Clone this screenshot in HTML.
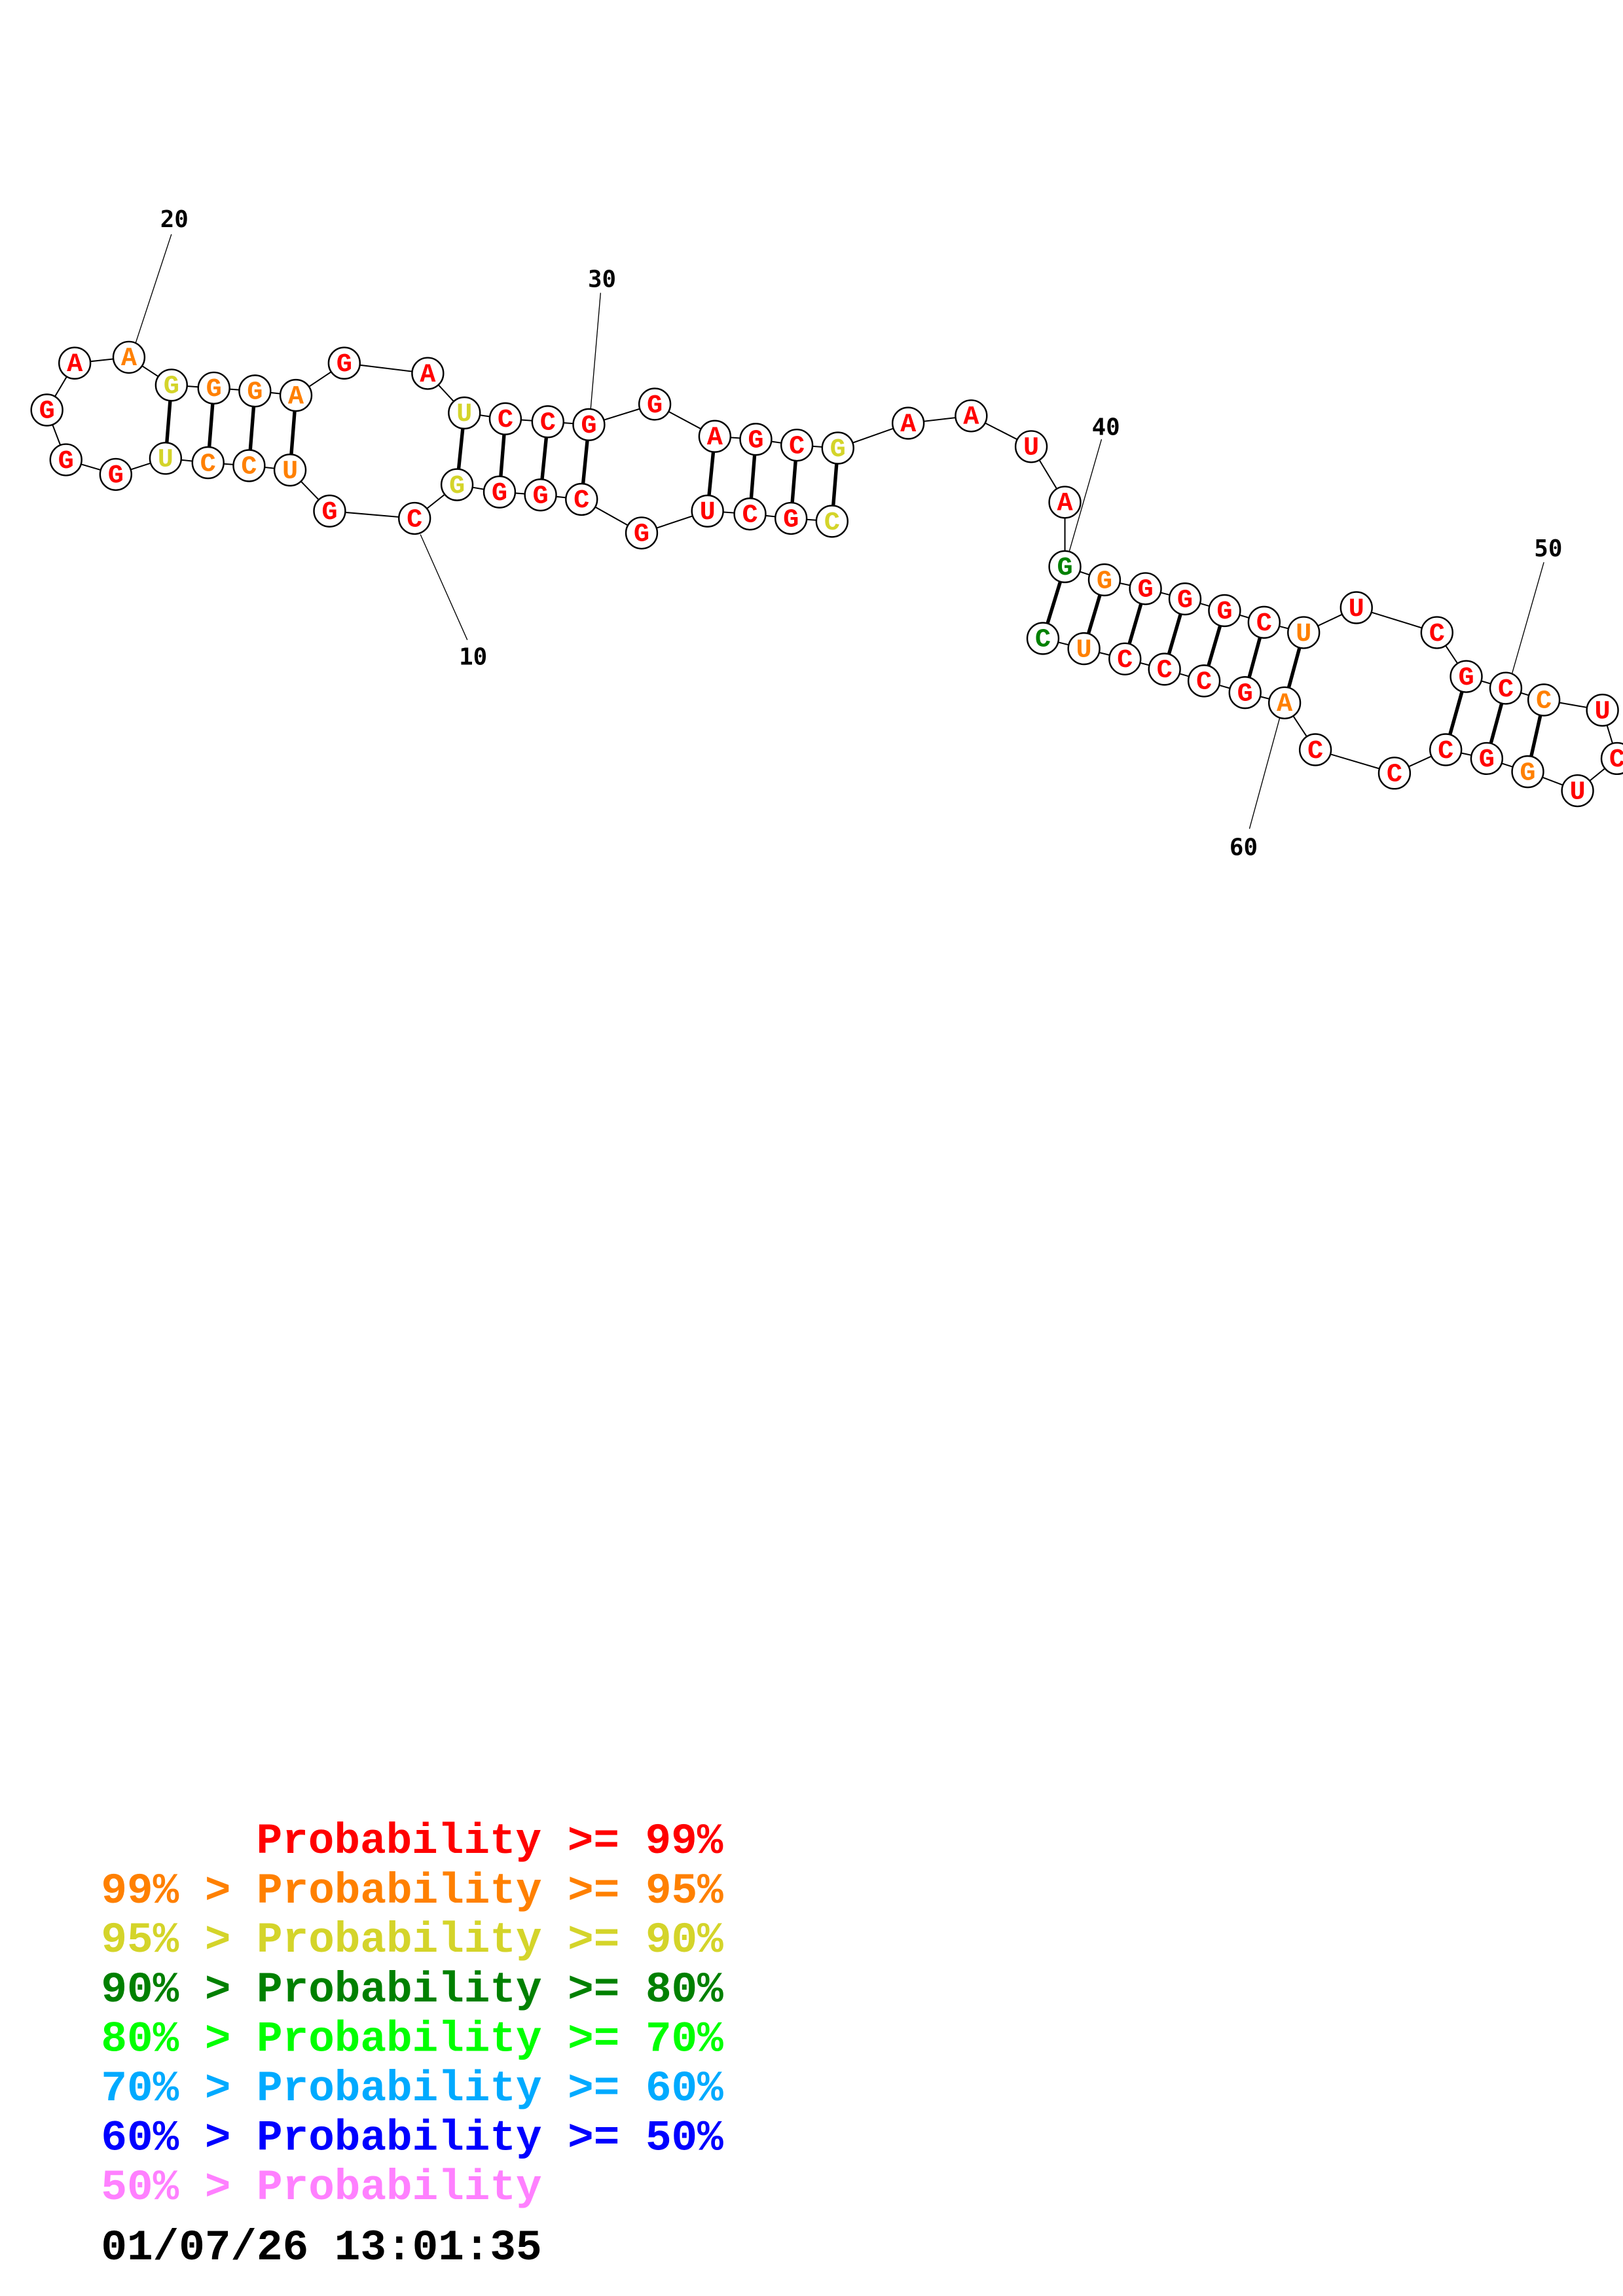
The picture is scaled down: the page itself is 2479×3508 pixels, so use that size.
<!DOCTYPE html>
<html><head><meta charset="utf-8"><style>
html,body{margin:0;padding:0;background:#fff;}
svg{display:block;}
.n{fill:#fff;stroke:#000;stroke-width:1.1}
.t{font-family:"Liberation Mono",monospace;font-weight:bold;font-size:18px;text-anchor:middle}
.R{fill:#ff0000}.O{fill:#ff8000}.Y{fill:#d4d42a}.G{fill:#008000}
.b{stroke:#000;stroke-width:0.9}
.p{stroke:#000;stroke-width:2.4}
.l{stroke:#000;stroke-width:0.6}
.num{font-family:"DejaVu Sans Mono","Liberation Mono",monospace;font-weight:bold;font-size:16px;text-anchor:middle}
.lg{font-family:"Liberation Mono",monospace;font-weight:bold;font-size:29.5px;white-space:pre}
</style></head><body>
<svg width="2479" height="3508" viewBox="0 0 1108 1568" xmlns="http://www.w3.org/2000/svg">
<g>
<polyline class="b" fill="none" points="568,356 540,354 512,351 483,349 438,364 397,341 369,338 341,336 312,331 283,354 225,349 198,321 170,318 142,316 113,313 79,324 45,314 32,280 51,248 88,244 117,263 146,265 174,267 202,270 235,248 292,255 317,282 345,286 374,288 402,290 447,276 488,298 516,300 544,304 572,306 620,289 663,284 704,305 727,343 727,387 754,396 782,402 809,409 836,417 863,425 890,432 926,415 981,432 1001,462 1028,470 1054,478 1094,485 1104,518 1077,540 1043,527 1015,518 987,512 952,528 898,512 877,480 850,473 822,465 795,457 768,450 740,443 712,436"/>
<line class="p" x1="117" y1="263" x2="113" y2="313"/>
<line class="p" x1="146" y1="265" x2="142" y2="316"/>
<line class="p" x1="174" y1="267" x2="170" y2="318"/>
<line class="p" x1="202" y1="270" x2="198" y2="321"/>
<line class="p" x1="317" y1="282" x2="312" y2="331"/>
<line class="p" x1="345" y1="286" x2="341" y2="336"/>
<line class="p" x1="374" y1="288" x2="369" y2="338"/>
<line class="p" x1="402" y1="290" x2="397" y2="341"/>
<line class="p" x1="488" y1="298" x2="483" y2="349"/>
<line class="p" x1="516" y1="300" x2="512" y2="351"/>
<line class="p" x1="544" y1="304" x2="540" y2="354"/>
<line class="p" x1="572" y1="306" x2="568" y2="356"/>
<line class="p" x1="727" y1="387" x2="712" y2="436"/>
<line class="p" x1="754" y1="396" x2="740" y2="443"/>
<line class="p" x1="782" y1="402" x2="768" y2="450"/>
<line class="p" x1="809" y1="409" x2="795" y2="457"/>
<line class="p" x1="836" y1="417" x2="822" y2="465"/>
<line class="p" x1="863" y1="425" x2="850" y2="473"/>
<line class="p" x1="890" y1="432" x2="877" y2="480"/>
<line class="p" x1="1001" y1="462" x2="987" y2="512"/>
<line class="p" x1="1028" y1="470" x2="1015" y2="518"/>
<line class="p" x1="1054" y1="478" x2="1043" y2="527"/>
<line class="l" x1="117" y1="160" x2="92" y2="236"/>
<line class="l" x1="410" y1="200" x2="403" y2="282"/>
<line class="l" x1="287" y1="365" x2="319" y2="437"/>
<line class="l" x1="752" y1="300" x2="729" y2="380"/>
<line class="l" x1="1054" y1="384" x2="1032" y2="461"/>
<line class="l" x1="853" y1="566" x2="874" y2="489"/>
</g>
<g>
<circle class="n" cx="568" cy="356" r="10.7"/><circle class="n" cx="540" cy="354" r="10.7"/><circle class="n" cx="512" cy="351" r="10.7"/><circle class="n" cx="483" cy="349" r="10.7"/><circle class="n" cx="438" cy="364" r="10.7"/><circle class="n" cx="397" cy="341" r="10.7"/><circle class="n" cx="369" cy="338" r="10.7"/><circle class="n" cx="341" cy="336" r="10.7"/><circle class="n" cx="312" cy="331" r="10.7"/><circle class="n" cx="283" cy="354" r="10.7"/><circle class="n" cx="225" cy="349" r="10.7"/><circle class="n" cx="198" cy="321" r="10.7"/><circle class="n" cx="170" cy="318" r="10.7"/><circle class="n" cx="142" cy="316" r="10.7"/><circle class="n" cx="113" cy="313" r="10.7"/><circle class="n" cx="79" cy="324" r="10.7"/><circle class="n" cx="45" cy="314" r="10.7"/><circle class="n" cx="32" cy="280" r="10.7"/><circle class="n" cx="51" cy="248" r="10.7"/><circle class="n" cx="88" cy="244" r="10.7"/><circle class="n" cx="117" cy="263" r="10.7"/><circle class="n" cx="146" cy="265" r="10.7"/><circle class="n" cx="174" cy="267" r="10.7"/><circle class="n" cx="202" cy="270" r="10.7"/><circle class="n" cx="235" cy="248" r="10.7"/><circle class="n" cx="292" cy="255" r="10.7"/><circle class="n" cx="317" cy="282" r="10.7"/><circle class="n" cx="345" cy="286" r="10.7"/><circle class="n" cx="374" cy="288" r="10.7"/><circle class="n" cx="402" cy="290" r="10.7"/><circle class="n" cx="447" cy="276" r="10.7"/><circle class="n" cx="488" cy="298" r="10.7"/><circle class="n" cx="516" cy="300" r="10.7"/><circle class="n" cx="544" cy="304" r="10.7"/><circle class="n" cx="572" cy="306" r="10.7"/><circle class="n" cx="620" cy="289" r="10.7"/><circle class="n" cx="663" cy="284" r="10.7"/><circle class="n" cx="704" cy="305" r="10.7"/><circle class="n" cx="727" cy="343" r="10.7"/><circle class="n" cx="727" cy="387" r="10.7"/><circle class="n" cx="754" cy="396" r="10.7"/><circle class="n" cx="782" cy="402" r="10.7"/><circle class="n" cx="809" cy="409" r="10.7"/><circle class="n" cx="836" cy="417" r="10.7"/><circle class="n" cx="863" cy="425" r="10.7"/><circle class="n" cx="890" cy="432" r="10.7"/><circle class="n" cx="926" cy="415" r="10.7"/><circle class="n" cx="981" cy="432" r="10.7"/><circle class="n" cx="1001" cy="462" r="10.7"/><circle class="n" cx="1028" cy="470" r="10.7"/><circle class="n" cx="1054" cy="478" r="10.7"/><circle class="n" cx="1094" cy="485" r="10.7"/><circle class="n" cx="1104" cy="518" r="10.7"/><circle class="n" cx="1077" cy="540" r="10.7"/><circle class="n" cx="1043" cy="527" r="10.7"/><circle class="n" cx="1015" cy="518" r="10.7"/><circle class="n" cx="987" cy="512" r="10.7"/><circle class="n" cx="952" cy="528" r="10.7"/><circle class="n" cx="898" cy="512" r="10.7"/><circle class="n" cx="877" cy="480" r="10.7"/><circle class="n" cx="850" cy="473" r="10.7"/><circle class="n" cx="822" cy="465" r="10.7"/><circle class="n" cx="795" cy="457" r="10.7"/><circle class="n" cx="768" cy="450" r="10.7"/><circle class="n" cx="740" cy="443" r="10.7"/><circle class="n" cx="712" cy="436" r="10.7"/>
</g>
<g class="t">
<text class="Y" x="568" y="361.5">C</text><text class="R" x="540" y="359.5">G</text><text class="R" x="512" y="356.5">C</text><text class="R" x="483" y="354.5">U</text><text class="R" x="438" y="369.5">G</text><text class="R" x="397" y="346.5">C</text><text class="R" x="369" y="343.5">G</text><text class="R" x="341" y="341.5">G</text><text class="Y" x="312" y="336.5">G</text><text class="R" x="283" y="359.5">C</text><text class="R" x="225" y="354.5">G</text><text class="O" x="198" y="326.5">U</text><text class="O" x="170" y="323.5">C</text><text class="O" x="142" y="321.5">C</text><text class="Y" x="113" y="318.5">U</text><text class="R" x="79" y="329.5">G</text><text class="R" x="45" y="319.5">G</text><text class="R" x="32" y="285.5">G</text><text class="R" x="51" y="253.5">A</text><text class="O" x="88" y="249.5">A</text><text class="Y" x="117" y="268.5">G</text><text class="O" x="146" y="270.5">G</text><text class="O" x="174" y="272.5">G</text><text class="O" x="202" y="275.5">A</text><text class="R" x="235" y="253.5">G</text><text class="R" x="292" y="260.5">A</text><text class="Y" x="317" y="287.5">U</text><text class="R" x="345" y="291.5">C</text><text class="R" x="374" y="293.5">C</text><text class="R" x="402" y="295.5">G</text><text class="R" x="447" y="281.5">G</text><text class="R" x="488" y="303.5">A</text><text class="R" x="516" y="305.5">G</text><text class="R" x="544" y="309.5">C</text><text class="Y" x="572" y="311.5">G</text><text class="R" x="620" y="294.5">A</text><text class="R" x="663" y="289.5">A</text><text class="R" x="704" y="310.5">U</text><text class="R" x="727" y="348.5">A</text><text class="G" x="727" y="392.5">G</text><text class="O" x="754" y="401.5">G</text><text class="R" x="782" y="407.5">G</text><text class="R" x="809" y="414.5">G</text><text class="R" x="836" y="422.5">G</text><text class="R" x="863" y="430.5">C</text><text class="O" x="890" y="437.5">U</text><text class="R" x="926" y="420.5">U</text><text class="R" x="981" y="437.5">C</text><text class="R" x="1001" y="467.5">G</text><text class="R" x="1028" y="475.5">C</text><text class="O" x="1054" y="483.5">C</text><text class="R" x="1094" y="490.5">U</text><text class="R" x="1104" y="523.5">C</text><text class="R" x="1077" y="545.5">U</text><text class="O" x="1043" y="532.5">G</text><text class="R" x="1015" y="523.5">G</text><text class="R" x="987" y="517.5">C</text><text class="R" x="952" y="533.5">C</text><text class="R" x="898" y="517.5">C</text><text class="O" x="877" y="485.5">A</text><text class="R" x="850" y="478.5">G</text><text class="R" x="822" y="470.5">C</text><text class="R" x="795" y="462.5">C</text><text class="R" x="768" y="455.5">C</text><text class="O" x="740" y="448.5">U</text><text class="G" x="712" y="441.5">C</text>
</g>
<g class="num">
<text x="119" y="155">20</text>
<text x="411" y="196">30</text>
<text x="323" y="454">10</text>
<text x="755" y="297">40</text>
<text x="1057" y="380">50</text>
<text x="849" y="584">60</text>
</g>
<g class="lg">
<text x="175" y="1265.5" fill="#ff0000">Probability &gt;= 99%</text>
<text x="69" y="1299.3" fill="#ff8000">99% &gt; Probability &gt;= 95%</text>
<text x="69" y="1333" fill="#d4d42a">95% &gt; Probability &gt;= 90%</text>
<text x="69" y="1366.8" fill="#008000">90% &gt; Probability &gt;= 80%</text>
<text x="69" y="1400.5" fill="#00ff00">80% &gt; Probability &gt;= 70%</text>
<text x="69" y="1434.3" fill="#00aaff">70% &gt; Probability &gt;= 60%</text>
<text x="69" y="1468" fill="#0000ff">60% &gt; Probability &gt;= 50%</text>
<text x="69" y="1501.8" fill="#ff80ff">50% &gt; Probability</text>
<text x="69" y="1543" fill="#000">01/07/26 13:01:35</text>
</g>
</svg>
</body></html>
